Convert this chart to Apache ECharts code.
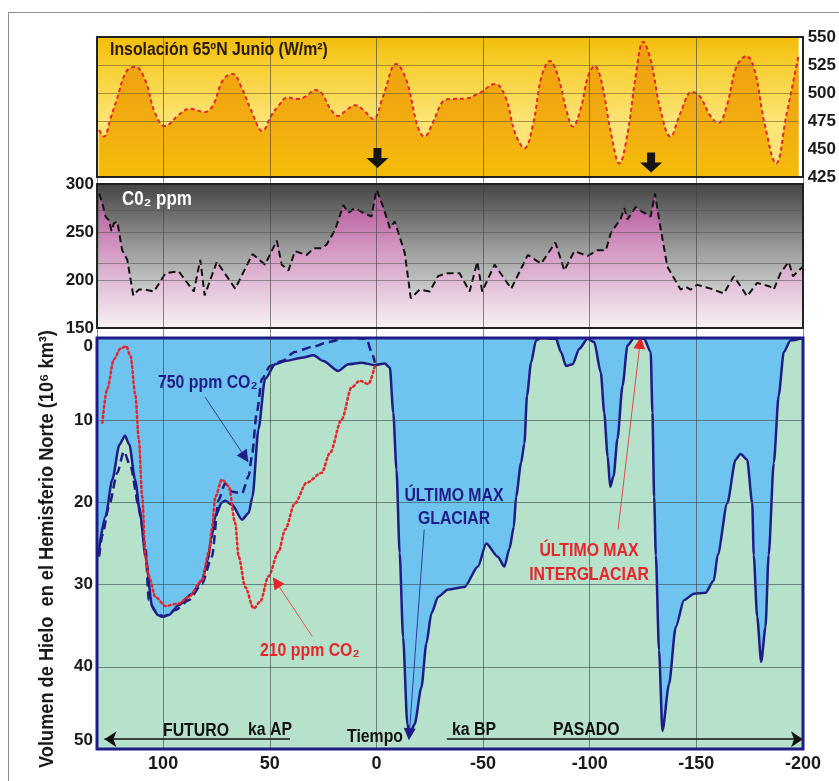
<!DOCTYPE html>
<html>
<head>
<meta charset="utf-8">
<script src="https://cdn.jsdelivr.net/npm/echarts@6/dist/echarts.min.js"></script>
<style>
html, body { margin: 0; padding: 0; background: #fff; }
#chart { width: 839px; height: 781px; }
</style>
</head>
<body>
<div id="chart"></div>
<script>
// time in ka: positive = future (AP), negative = past (BP)
var timeTicks = [100, 50, 0, -50, -100, -150, -200];

// insolation 65N June (W/m2)
var insolT = [130, 127.7, 124.5, 121.7, 117.2, 113, 108.3, 103.6, 98.9, 92.7, 87.2, 80.2, 76.3, 71.6, 67, 63, 58.4, 52.9, 49, 45.2, 41.2, 36.6, 32.7, 28, 24.9, 21, 17.1, 13.2, 9.3, 5.4, 0.7, -3.9, -10.2, -14.9, -20.3, -23.4, -27.3, -32, -35.9, -42.9, -49.1, -56.9, -61.6, -66.3, -70.6, -74.8, -78.7, -82.7, -86.5, -90.4, -93.5, -97.4, -100.6, -103.7, -106.8, -111.5, -115.4, -119.3, -123.1, -126.7, -130.2, -134.8, -139.5, -144.2, -149.7, -153.5, -158.2, -162.1, -166, -170.7, -175.4, -179.2, -183.9, -189.4, -194.1, -200];
var insolW = [467, 461, 478, 494, 519, 523.5, 511.6, 482, 470.5, 480, 486, 483, 489, 511.6, 517, 505.6, 485, 466, 479, 489, 496, 494.6, 496.7, 502.7, 499.7, 486, 479.5, 485, 489, 485, 476.8, 496.7, 526, 511.6, 470, 461, 473, 492, 494.6, 495, 499.7, 508, 496.7, 464, 450.6, 473, 514.6, 528.6, 514.6, 485, 470, 487.8, 514.6, 524, 511.6, 464, 437, 464, 514.6, 545.8, 529.5, 485, 461, 482, 501, 496.7, 480, 473, 487.8, 523.5, 533, 520.5, 473, 437, 479, 534];

// CO2 (ppm)
var co2T = [130, 128.5, 127, 125.4, 124.2, 123.1, 121.5, 119.2, 116.8, 114, 111.4, 108.3, 104.3, 98.9, 92.7, 85.6, 82.6, 80.5, 74.8, 66.2, 58.1, 52.2, 46.7, 44.4, 41.2, 38.2, 32.7, 29.5, 25.7, 23.3, 19.4, 15.5, 13.2, 10.1, 6.2, 2.3, 0, -3.2, -6.3, -8.6, -10.9, -13.3, -16.1, -20.3, -25, -28.9, -32.8, -39, -43.7, -47.3, -49.6, -55.4, -63.2, -71, -77.2, -83.9, -88.1, -92.8, -99, -103.7, -107.6, -109.9, -114.6, -116.2, -117.7, -121.6, -124.7, -128.6, -130.6, -132.5, -136.4, -142.6, -145, -147.3, -150.4, -156.7, -162.9, -167.6, -173.8, -178.5, -184.7, -186.3, -189.4, -193.3, -195.3, -200];
var co2P = [290, 280, 266, 262, 251, 259, 261, 231, 221, 184, 190, 190, 188, 207, 209, 188, 221, 184, 219, 191, 227, 216, 241, 216, 210, 230, 226, 233, 233, 237, 252, 278, 270, 275, 270, 266, 294, 276, 254, 261, 245, 228, 181, 190, 188, 204, 207, 207, 188, 219, 188, 216, 191, 226, 217, 239, 210, 230, 225, 231, 231, 249, 264, 275, 263, 276, 271, 266, 290, 263, 214, 190, 193, 190, 195, 191, 186, 204, 183, 197, 193, 190, 207, 219, 204, 214];

// northern hemisphere ice volume (10^6 km3)
var iceT = [130.5, 127, 123.8, 120.5, 117.9, 115.8, 113.2, 110.6, 108.3, 105.1, 102.5, 100.5, 97.3, 92.7, 86.4, 81.8, 79, 77.5, 75.5, 72.5, 70.9, 67.7, 63, 59.9, 58.1, 55.3, 52.2, 47.5, 42.8, 35, 29.5, 24.9, 17.9, 13.2, 7, 0.7, -3.9, -6.3, -7.9, -9.4, -10.9, -12.5, -14.5, -15.6, -17.9, -21.1, -23.4, -25.8, -28.9, -33.6, -41.3, -47.6, -51.5, -56.9, -60, -62.4, -64.4, -65.5, -67.8, -69.4, -70.6, -72.5, -74.8, -77.2, -84.2, -86.5, -88.9, -92, -95.1, -99, -102.1, -105.2, -106.8, -108.4, -109.6, -111.2, -113, -115.4, -117.7, -120.8, -125.5, -128.6, -129.4, -130.2, -131, -132.5, -134.1, -137.2, -140.3, -144.2, -148.9, -154.3, -158.2, -160, -164.5, -168.4, -170.7, -173.8, -176.2, -176.9, -178.5, -180.4, -182.4, -183.9, -186.3, -188.6, -191, -194.1, -200];
var iceV = [26.5, 21.7, 17.2, 13, 11.9, 13, 17.2, 21.7, 26.6, 32.7, 33.7, 33.9, 33.7, 32.5, 31.1, 29.5, 27, 24.5, 21.7, 20, 19.8, 20.3, 22.1, 21.3, 19.3, 11.1, 5, 3.2, 2.8, 2.4, 2.1, 2.8, 4, 3.2, 3, 3.3, 3.1, 3.6, 9.1, 16, 26.2, 36.4, 47, 48.2, 47, 42.5, 37.2, 33.5, 31.5, 30.6, 30.3, 27.8, 25, 26.6, 27.8, 25.6, 23, 19.3, 15.2, 12.8, 7, 3, 0.3, 0, 0.1, 1.7, 3.4, 3.2, 1.3, 0.1, 0.5, 4.2, 9.1, 14.4, 18.1, 16.8, 12.3, 5.8, 0.9, 0, 0.1, 1.7, 9.1, 19.3, 26.4, 38, 47.8, 42.1, 35.2, 31.9, 31.1, 31, 29.5, 26.4, 20.1, 14.8, 14.1, 14.8, 20.1, 26.4, 33.9, 39.4, 35.2, 26.4, 15.2, 7, 1.7, 0.3, 0];

// simulation with 750 ppm CO2
var ice750T = [130, 128.5, 125.4, 121.5, 118.4, 115.3, 111.4, 108.3, 106.7, 103.6, 99.7, 94.2, 88, 81.8, 77.1, 74, 70.9, 67.7, 63, 59.9, 58.4, 56.1, 53.7, 49.8, 44.4, 38.2, 30.3, 22.5, 14.8, 10.1, 4.6, 2.3, 0.7];
var ice750V = [26.6, 24, 20.5, 16.4, 13.8, 15.6, 20.5, 25.4, 31.9, 33.3, 33.9, 33.1, 31.9, 29.9, 26.6, 19.7, 17.7, 18.7, 18.9, 16.8, 14.4, 9.1, 5, 3.4, 2.8, 1.7, 1.1, 0.5, 0, 0, 0.1, 1.7, 3];

// simulation with 210 ppm CO2
var ice210T = [128.5, 126.2, 123.1, 120, 117.3, 115.3, 113, 111.4, 109.8, 108.3, 106.7, 103.6, 98.9, 92.7, 88, 81.8, 78.5, 77.2, 75.5, 72.4, 69.3, 66.2, 64.6, 61.5, 57.6, 54.5, 50.6, 45.9, 42.8, 38.2, 32.7, 25.7, 21.8, 16.3, 11.6, 7.8, 3.8, 0.7];
var ice210V = [10.3, 6.2, 2.6, 1.3, 1, 2.2, 7, 12.3, 19.3, 26.6, 29, 31.5, 32.6, 32.3, 31.5, 29.5, 26, 23.3, 19.3, 17.2, 18, 22.5, 26.6, 30.3, 32.9, 32.1, 29, 26, 23.3, 20.1, 17.6, 16.4, 14, 9.9, 6, 5.2, 5.6, 3.4];

function zip(a, b) {
	var out = [];
	for (var i = 0; i < a.length; i++) out.push([a[i], b[i]]);
	return out;
}

var FONT = "'Liberation Sans Narrow', 'Arial Narrow', 'Liberation Sans', sans-serif";
var NAVY = '#1f1c86';
var RED = '#e8252a';
var LEFT = 97, WIDTH = 706;
var panels = [
	{ top: 37, height: 140 },
	{ top: 184, height: 144 },
	{ top: 338, height: 411 }
];

function grad(stops) {
	return new echarts.graphic.LinearGradient(0, 0, 0, 1, stops.map(function (s) {
		return { offset: s[0], color: s[1] };
	}));
}

function xAxisFor(i) {
	return {
		type: 'value', gridIndex: i, min: -200, max: 131, interval: 50, inverse: true,
		axisLine: { show: false }, axisTick: { show: false },
		splitLine: { show: i === 3, lineStyle: { color: '#3c3c3c', width: 0.8, opacity: 0.75 } },
		axisLabel: {
			show: i === 2, showMaxLabel: false, margin: 6,
			fontFamily: FONT, fontWeight: 'bold', fontSize: 18, color: '#1a1a1a'
		},
		z: i === 3 ? 5 : 0
	};
}

// condensed bold text (the original uses a narrow face)
function txt(text, x, y, color, opts) {
	opts = opts || {};
	return {
		type: 'text', silent: true, z: 100, x: x, y: y, scaleX: opts.scale || 0.88,
		rotation: opts.rotation || 0,
		style: {
			text: text, fill: color, font: 'bold ' + (opts.size || 18) + 'px ' + FONT,
			lineHeight: opts.lineHeight, textAlign: opts.align || 'left', align: opts.align || 'left',
			textVerticalAlign: 'middle', verticalAlign: 'middle'
		}
	};
}

var labelStyle = { fontFamily: FONT, fontWeight: 'bold', fontSize: 17, color: '#1a1a1a' };

var myChart = echarts.init(document.getElementById('chart'));
var option = {
	animation: false,
	backgroundColor: '#ffffff',
	grid: [
		{ left: LEFT, width: WIDTH, top: panels[0].top, height: panels[0].height, show: true, borderWidth: 0,
			backgroundColor: grad([[0, '#f2bd08'], [0.25, '#f8d23a'], [0.6, '#fce475'], [1, '#fbe47c']]) },
		{ left: LEFT, width: WIDTH, top: panels[1].top, height: panels[1].height, show: true, borderWidth: 0,
			backgroundColor: grad([[0, '#454545'], [0.45, '#9c9c9c'], [0.75, '#cbcdcd'], [1, '#ececec']]) },
		{ left: LEFT, width: WIDTH, top: panels[2].top, height: panels[2].height, show: true, borderWidth: 0,
			backgroundColor: '#6ec3ef' },
		{ left: LEFT, width: WIDTH, top: panels[0].top, height: 712 }
	],
	xAxis: [xAxisFor(0), xAxisFor(1), xAxisFor(2), xAxisFor(3)],
	yAxis: [
		{ type: 'value', gridIndex: 0, min: 425, max: 550, interval: 25, position: 'right',
			axisLine: { show: false }, axisTick: { show: false }, splitLine: { show: false },
			axisLabel: Object.assign({ margin: 9 }, labelStyle) },
		{ type: 'value', gridIndex: 1, min: 150, max: 300, interval: 50,
			axisLine: { show: false }, axisTick: { show: false }, splitLine: { show: false },
			axisLabel: Object.assign({ margin: 3, padding: [0, 0, 10, 0] }, labelStyle) },
		{ type: 'value', gridIndex: 2, min: 0, max: 50, interval: 10, inverse: true,
			axisLine: { show: false }, axisTick: { show: false },
			splitLine: { show: true, lineStyle: { color: '#3b5050', width: 0.8, opacity: 0.8 } },
			axisLabel: Object.assign({ margin: 4, verticalAlignMinLabel: 'top', verticalAlignMaxLabel: 'bottom' }, labelStyle),
			z: 3 },
		{ type: 'value', gridIndex: 3, min: 0, max: 1, show: false }
	],
	series: [
		{
			name: 'Insolación', type: 'line', xAxisIndex: 0, yAxisIndex: 0,
			data: zip(insolT, insolW), smooth: 0.4, symbol: 'none',
			lineStyle: { color: RED, width: 2, type: [4, 3] },
			areaStyle: { origin: 'start', opacity: 1, color: grad([[0, '#ef9f10'], [0.6, '#f2ac10'], [1, '#f5bd0a']]) },
			markLine: {
				silent: true, symbol: ['none', 'none'], label: { show: false },
				lineStyle: { color: '#7d6420', width: 0.8, type: 'solid', opacity: 0.8 },
				data: [{ yAxis: 475 }, { yAxis: 500 }, { yAxis: 525 }]
			},
			markPoint: {
				silent: true, symbol: 'path://M7,0 L15,0 L15,10 L22,10 L11,20 L0,10 L7,10 Z',
				symbolSize: [22, 20], itemStyle: { color: '#141414' }, label: { show: false },
				data: [{ coord: [-1.3, 442] }, { coord: [-130.4, 438] }]
			}
		},
		{
			name: 'CO2', type: 'line', xAxisIndex: 1, yAxisIndex: 1,
			data: zip(co2T, co2P), symbol: 'none',
			lineStyle: { color: '#111', width: 2, type: [7, 4] },
			areaStyle: { origin: 'start', opacity: 1, color: grad([[0, '#b04d94'], [0.4, '#d193bf'], [1, '#f6f1f4']]) },
			markLine: {
				silent: true, symbol: ['none', 'none'], label: { show: false },
				lineStyle: { color: '#555', width: 0.8, type: 'solid', opacity: 0.7 },
				data: [{ yAxis: 200 }, { yAxis: 217 }, { yAxis: 250 }, { yAxis: 273 }]
			}
		},
		{
			name: 'Hielo', type: 'line', xAxisIndex: 2, yAxisIndex: 2,
			data: zip(iceT, iceV), smooth: 0.25, smoothMonotone: 'x', symbol: 'none', z: 2,
			lineStyle: { color: NAVY, width: 2.5 },
			areaStyle: { origin: 'end', opacity: 1, color: '#b6e2cc' },
			markLine: {
				silent: true, symbol: ['none', 'triangle'], symbolSize: 12, label: { show: false },
				lineStyle: { color: NAVY, width: 0.8, type: 'solid' },
				data: [
					[{ coord: [80.3, 7.2] }, { coord: [61.6, 14.5] }],
					[{ coord: [-22.4, 23.3] }, { coord: [-15.4, 48.2] }]
				]
			}
		},
		{
			name: '750 ppm', type: 'line', xAxisIndex: 2, yAxisIndex: 2,
			data: zip(ice750T, ice750V), smooth: 0.25, smoothMonotone: 'x', symbol: 'none', z: 3,
			lineStyle: { color: NAVY, width: 2.5, type: [9, 5] },
			markLine: {
				silent: true, symbol: ['arrow', 'none'], symbolSize: 12, label: { show: false },
				lineStyle: { color: '#111', width: 1.5, type: 'solid' },
				data: [
					[{ coord: [127.5, 48.8] }, { coord: [40.5, 48.8] }],
					[{ coord: [-33, 48.8], symbol: 'none' }, { coord: [-200, 48.8], symbol: 'arrow' }]
				]
			}
		},
		{
			name: '210 ppm', type: 'line', xAxisIndex: 2, yAxisIndex: 2,
			data: zip(ice210T, ice210V), smooth: 0.3, smoothMonotone: 'x', symbol: 'none', z: 3,
			lineStyle: { color: RED, width: 2.5, type: [2, 3], cap: 'round' },
			markLine: {
				silent: true, symbol: ['none', 'triangle'], symbolSize: 12, label: { show: false },
				lineStyle: { color: RED, width: 0.8, type: 'solid' },
				data: [
					[{ coord: [30.1, 36.3] }, { coord: [47, 29.7] }],
					[{ coord: [-113.3, 23.3] }, { coord: [-123.6, 0.6] }]
				]
			}
		}
	],
	graphic: [
		{ type: 'rect', silent: true, z: 0, shape: { x: 8.5, y: 12.5, width: 900, height: 900 },
			style: { fill: 'none', stroke: '#8c8c8c', lineWidth: 1 } },
		{ type: 'rect', silent: true, z: 100, shape: { x: LEFT, y: panels[0].top, width: WIDTH, height: panels[0].height },
			style: { fill: 'none', stroke: '#222', lineWidth: 2 } },
		{ type: 'rect', silent: true, z: 100, shape: { x: LEFT, y: panels[1].top, width: WIDTH, height: panels[1].height },
			style: { fill: 'none', stroke: '#222', lineWidth: 2 } },
		{ type: 'rect', silent: true, z: 100, shape: { x: LEFT, y: panels[2].top, width: WIDTH, height: panels[2].height },
			style: { fill: 'none', stroke: NAVY, lineWidth: 3 } },
		txt('Volumen de Hielo  en el Hemisferio Norte (10\u2076 km\u00b3)', 47, 549, '#1a1a1a',
			{ size: 20, align: 'center', rotation: Math.PI / 2, scale: 0.91 }),
		txt('Insolación 65ºN Junio (W/m\u00b2)', 110, 50, '#2a1a08'),
		txt('C0\u2082 ppm', 122, 199, '#ffffff', { size: 20, scale: 0.85 }),
		txt('750 ppm CO\u2082', 158, 383, NAVY),
		txt('210 ppm CO\u2082', 260, 651, RED),
		txt('ÚLTIMO MAX\nGLACIAR', 454, 508, NAVY, { align: 'center', lineHeight: 23 }),
		txt('ÚLTIMO MAX\nINTERGLACIAR', 589, 563, RED, { align: 'center', lineHeight: 24 }),
		txt('FUTURO', 163, 731, '#111'),
		txt('ka AP', 248, 730, '#111'),
		txt('Tiempo', 347, 737, '#111'),
		txt('ka BP', 452, 730, '#111'),
		txt('PASADO', 553, 730, '#111')
	]
};
myChart.setOption(option);
</script>
</body>
</html>
